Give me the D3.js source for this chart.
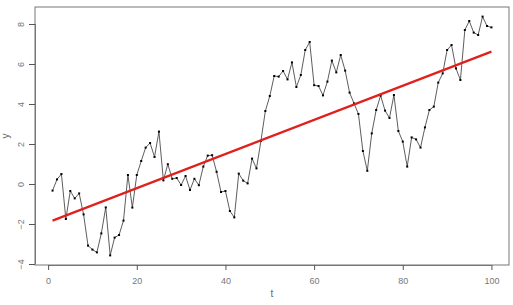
<!DOCTYPE html>
<html>
<head>
<meta charset="utf-8">
<script src="https://cdn.jsdelivr.net/npm/d3@7"></script>
<style>
  html, body { margin: 0; padding: 0; background: #fff; }
  svg { display: block; }
  text { font-family: "Liberation Sans", Arial, sans-serif; }
</style>
</head>
<body>
<script>
// ---- data ----
const tValues = d3.range(1, 101);
const yValues = [
  -0.33, 0.23, 0.5, -1.75, -0.35, -0.72, -0.47, -1.52, -3.08, -3.28,
  -3.42, -2.47, -1.17, -3.57, -2.68, -2.55, -1.83, 0.45, -1.18, 0.45,
  1.15, 1.82, 2.05, 1.35, 2.62, 0.18, 0.99, 0.26, 0.3, -0.05,
  0.4, -0.3, 0.26, -0.06, 0.87, 1.42, 1.44, 0.61, -0.4, -0.35,
  -1.35, -1.67, 0.52, 0.17, 0.03, 1.27, 0.78, 2.15, 3.65, 4.4,
  5.4, 5.37, 5.65, 5.23, 6.08, 4.85, 5.45, 6.7, 7.1, 4.94,
  4.9, 4.43, 5.12, 6.17, 5.58, 6.45, 5.67, 4.57, 4.03, 3.5,
  1.65, 0.66, 2.53, 3.7, 4.42, 3.67, 3.3, 4.45, 2.65, 2.12,
  0.87, 2.33, 2.23, 1.82, 2.83, 3.7, 3.87, 5.07, 5.53, 6.7,
  6.95, 5.78, 5.2, 7.7, 8.15, 7.57, 7.45, 8.37, 7.9, 7.83
];
const fitT = [1, 100];
const fitY = [-1.83, 6.62];
const xTicks = [0, 20, 40, 60, 80, 100];
const yTicks = [-4, -2, 0, 2, 4, 6, 8];
const xTitle = "t";
const yTitle = "y";

// ---- layout ----
const W = 513, H = 305;
const plot = { left: 35, right: 509, top: 7, bottom: 265 };

const x = d3.scaleLinear().domain([-2.96, 103.96]).range([plot.left, plot.right]);
const y = d3.scaleLinear().domain([-4.05, 8.85]).range([plot.bottom, plot.top]);

const svg = d3.select("body").append("svg").attr("width", W).attr("height", H);

const points = tValues.map((t, i) => ({ t, v: yValues[i] }));

// series line
svg.append("path")
  .datum(points)
  .attr("fill", "none")
  .attr("stroke", "#333")
  .attr("stroke-width", 0.8)
  .attr("d", d3.line().x(d => x(d.t)).y(d => y(d.v)));

// points
svg.append("g").selectAll("rect")
  .data(points)
  .join("rect")
  .attr("x", d => x(d.t) - 1)
  .attr("y", d => y(d.v) - 1)
  .attr("width", 2)
  .attr("height", 2)
  .attr("fill", "#000");

// regression line
svg.append("path")
  .datum(fitT.map((t, i) => ({ t, v: fitY[i] })))
  .attr("fill", "none")
  .attr("stroke", "#e0201c")
  .attr("stroke-width", 2.2)
  .attr("d", d3.line().x(d => x(d.t)).y(d => y(d.v)));

// box
svg.append("rect")
  .attr("x", plot.left)
  .attr("y", plot.top)
  .attr("width", plot.right - plot.left)
  .attr("height", plot.bottom - plot.top)
  .attr("fill", "none")
  .attr("stroke", "#777")
  .attr("stroke-width", 1);

// x axis
const xAxis = d3.axisBottom(x).tickValues(xTicks).tickSize(5).tickPadding(8);
const gx = svg.append("g").attr("transform", `translate(0,${plot.bottom})`).call(xAxis);
gx.select(".domain").attr("stroke", "#777").attr("d", `M${x(0)},0.5H${x(100)}`);
gx.selectAll(".tick line").attr("stroke", "#555");
gx.selectAll(".tick text").attr("fill", "#777").attr("font-size", 9)
  .attr("font-family", "Liberation Sans, Arial, sans-serif");

// y axis
const yAxis = d3.axisLeft(y).tickValues(yTicks).tickSize(6).tickPadding(0);
const gy = svg.append("g").attr("transform", `translate(${plot.left},0)`).call(yAxis);
gy.select(".domain").attr("stroke", "#777").attr("d", `M0.5,${y(-4)}V${y(8)}`);
gy.selectAll(".tick line").attr("stroke", "#555");
gy.selectAll(".tick text")
  .attr("fill", "#777").attr("font-size", 9)
  .attr("font-family", "Liberation Sans, Arial, sans-serif")
  .attr("text-anchor", "middle")
  .attr("dy", null)
  .attr("x", null)
  .attr("transform", "translate(-13,0) rotate(-90)")
  .attr("dominant-baseline", "middle");

// titles
svg.append("text")
  .attr("x", (plot.left + plot.right) / 2)
  .attr("y", 297)
  .attr("text-anchor", "middle")
  .attr("font-size", 10)
  .attr("fill", "#666")
  .text(xTitle);

svg.append("text")
  .attr("transform", `translate(6,${(plot.top + plot.bottom) / 2}) rotate(-90)`)
  .attr("text-anchor", "middle")
  .attr("dominant-baseline", "middle")
  .attr("font-size", 10)
  .attr("fill", "#666")
  .text(yTitle);
</script>
</body>
</html>
